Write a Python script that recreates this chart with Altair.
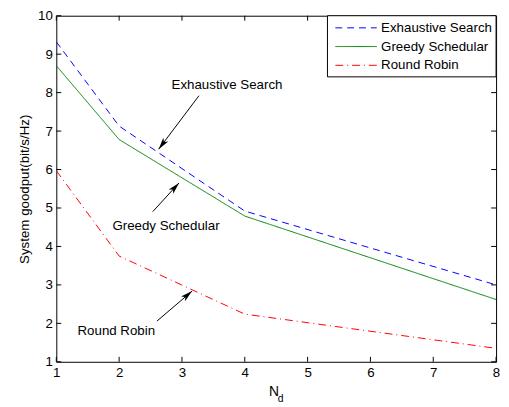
import math
import altair as alt
import pandas as pd

# ---- data ----
x_vals = [1, 2, 4, 8]
exhaustive = [9.32, 7.13, 4.92, 3.00]
greedy = [8.70, 6.78, 4.79, 2.62]
round_robin = [5.97, 3.75, 2.24, 1.35]

series_names = ["Exhaustive Search", "Greedy Schedular", "Round Robin"]
series_colors = ["#0000FF", "#008000", "#FF0000"]
series_dashes = [[7, 5], [1, 0], [8, 4, 1, 4]]

x_ticks = [1, 2, 3, 4, 5, 6, 7, 8]
y_ticks = [1, 2, 3, 4, 5, 6, 7, 8, 9, 10]

# annotations (data coordinates)
ann_text = ["Exhaustive Search", "Greedy Schedular", "Round Robin"]
ann_tx = [3.717, 2.746, 1.955]
ann_ty = [8.197, 4.53, 1.787]
arrow_x1 = [3.271, 2.535, 2.602]
arrow_y1 = [7.92, 4.905, 2.059]
arrow_x2 = [2.629, 2.953, 3.161]
arrow_y2 = [6.53, 5.65, 2.838]

# ---- layout ----
W, H = 446, 351
FONT = "Liberation Sans"
FS = 13.5
x_dom = [1, 8]
y_dom = [1, 10]
px_x = W / (x_dom[1] - x_dom[0])
px_y = H / (y_dom[1] - y_dom[0])

rows = []
for name, vals in zip(series_names, [exhaustive, greedy, round_robin]):
    for xv, yv in zip(x_vals, vals):
        rows.append({"series": name, "x": xv, "y": yv})
df_lines = pd.DataFrame(rows)

angles = []
for a, b, c, d in zip(arrow_x1, arrow_y1, arrow_x2, arrow_y2):
    dx = (c - a) * px_x
    dy = -(d - b) * px_y
    angles.append(math.degrees(math.atan2(dx, -dy)) % 360)

df_ann = pd.DataFrame({
    "text": ann_text, "tx": ann_tx, "ty": ann_ty,
    "x1": arrow_x1, "y1": arrow_y1, "x2": arrow_x2, "y2": arrow_y2,
    "angle": angles,
})

x_scale = alt.Scale(domain=x_dom, nice=False, zero=False)
y_scale = alt.Scale(domain=y_dom, nice=False, zero=False)
axis_common = dict(ticks=False, tickSize=0, domain=False, grid=False,
                   labelFont=FONT, labelFontSize=FS, labelColor="black",
                   labelPadding=4, labelFlush=False, labelOverlap=False,
                   titleFont=FONT, titleFontSize=FS, titleColor="black",
                   titleFontWeight="normal")
x_axis = alt.Axis(values=x_ticks, title=None, **axis_common)
y_axis = alt.Axis(values=y_ticks, title="System goodput(bit/s/Hz)",
                  titlePadding=6, **axis_common)


def X(field):
    return alt.X(field, type="quantitative", scale=x_scale, axis=x_axis)


def Y(field):
    return alt.Y(field, type="quantitative", scale=y_scale, axis=y_axis)


lines = alt.Chart(df_lines).mark_line(strokeWidth=1, clip=True).encode(
    x=X("x"), y=Y("y"),
    color=alt.Color("series:N", scale=alt.Scale(domain=series_names, range=series_colors), legend=None),
    strokeDash=alt.StrokeDash("series:N", scale=alt.Scale(domain=series_names, range=series_dashes), legend=None),
)

df_xt = pd.DataFrame({"x": x_ticks})
df_yt = pd.DataFrame({"y": y_ticks})
tick_bot = alt.Chart(df_xt).mark_rule(color="black", strokeWidth=1).encode(
    x=X("x"), y=alt.value(H), y2=alt.value(H - 5))
tick_top = alt.Chart(df_xt).mark_rule(color="black", strokeWidth=1).encode(
    x=X("x"), y=alt.value(0), y2=alt.value(5))
tick_left = alt.Chart(df_yt).mark_rule(color="black", strokeWidth=1).encode(
    y=Y("y"), x=alt.value(0), x2=alt.value(5))
tick_right = alt.Chart(df_yt).mark_rule(color="black", strokeWidth=1).encode(
    y=Y("y"), x=alt.value(W), x2=alt.value(W - 5))

ann_labels = alt.Chart(df_ann).mark_text(font=FONT, fontSize=FS, color="black",
                                         align="center", baseline="middle").encode(
    x=X("tx"), y=Y("ty"), text="text:N")
arrow_lines = alt.Chart(df_ann).mark_rule(color="black", strokeWidth=1).encode(
    x=X("x1"), y=Y("y1"), x2="x2", y2="y2")
arrow_heads = alt.Chart(df_ann).mark_point(
    shape="M0,0L0.42,1.6L0,1.2L-0.42,1.6Z", size=225, filled=True,
    color="black", opacity=1, strokeWidth=0).encode(
    x=X("x2"), y=Y("y2"), angle=alt.Angle("angle:Q", scale=None))

dummy = alt.Data(values=[{}])
legend_box = alt.Chart(dummy).mark_rect(fill="white", stroke="black", strokeWidth=1).encode(
    x=alt.value(275), x2=alt.value(W), y=alt.value(0), y2=alt.value(62))
legend_layers = [legend_box]
for i, name in enumerate(series_names):
    yy = 12.3 + 19 * i
    legend_layers.append(
        alt.Chart(dummy).mark_rule(color=series_colors[i], strokeWidth=1,
                                   strokeDash=series_dashes[i]).encode(
            x=alt.value(283), x2=alt.value(325), y=alt.value(yy)))
    legend_layers.append(
        alt.Chart(dummy).mark_text(text=name, font=FONT, fontSize=FS, color="black",
                                   align="left", baseline="middle").encode(
            x=alt.value(329.4), y=alt.value(yy)))

xlabel_n = alt.Chart(dummy).mark_text(text="N", font=FONT, fontSize=14, color="black",
                                      align="left", baseline="alphabetic").encode(
    x=alt.value(215.6), y=alt.value(385.4))
xlabel_d = alt.Chart(dummy).mark_text(text="d", font=FONT, fontSize=10.5, color="black",
                                      align="left", baseline="alphabetic").encode(
    x=alt.value(224.6), y=alt.value(391.4))

chart = alt.layer(
    lines, tick_bot, tick_top, tick_left, tick_right,
    arrow_lines, arrow_heads, ann_labels,
    *legend_layers, xlabel_n, xlabel_d,
).properties(
    width=W, height=H,
    autosize=alt.AutoSizeParams(type="none"),
    padding={"left": 49, "top": 5, "right": 5, "bottom": 42},
    background="white",
).configure_view(stroke="black", strokeWidth=1)

chart.save("out.html", embed_options={"renderer": "svg", "actions": False})
